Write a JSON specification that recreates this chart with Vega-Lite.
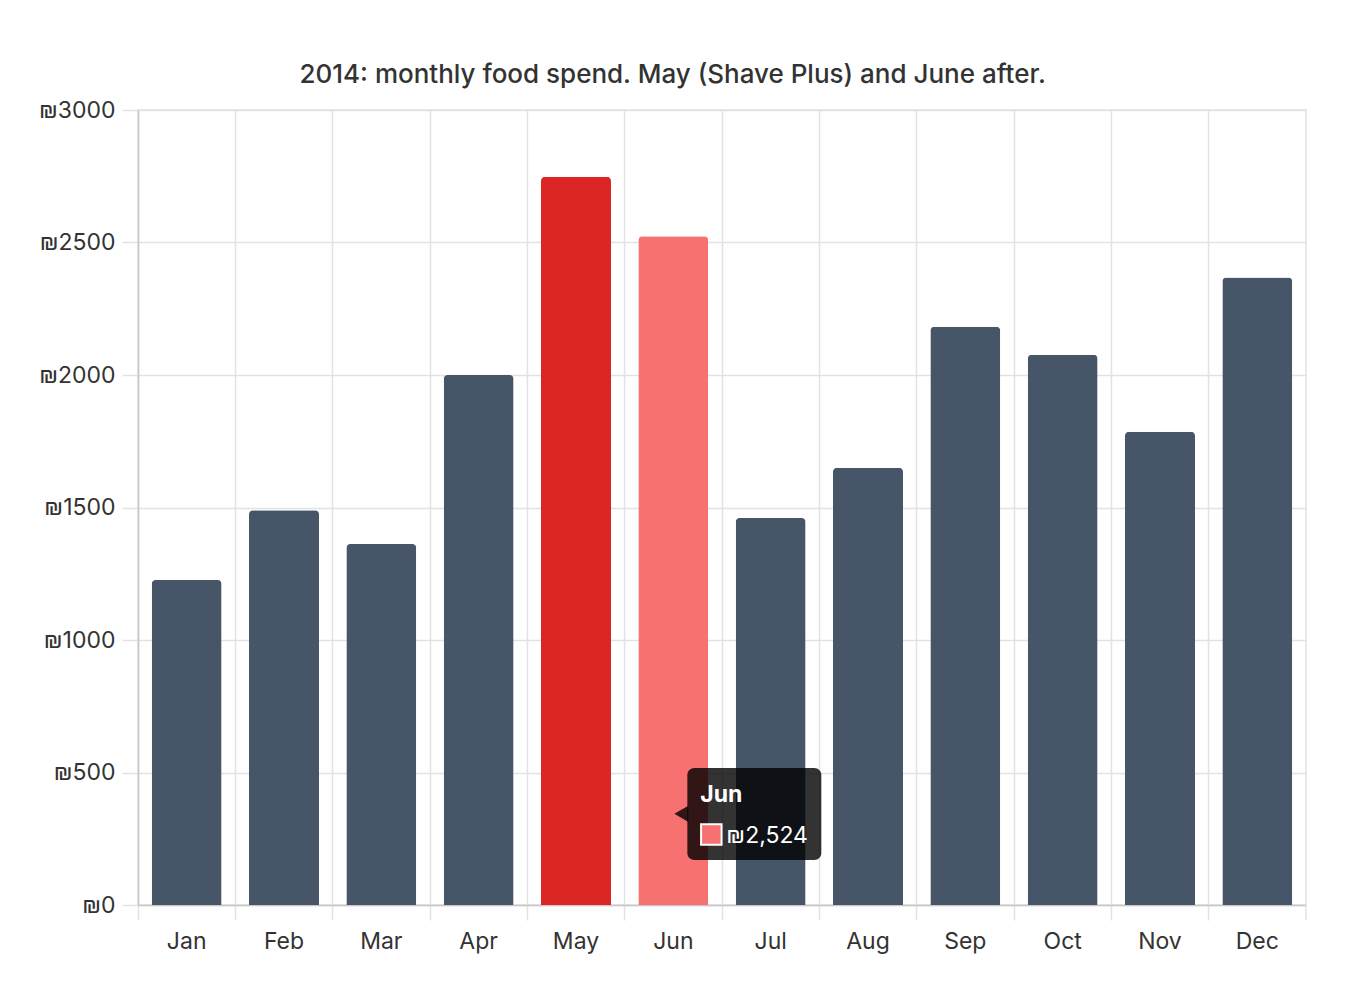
{
  "$schema": "https://vega.github.io/schema/vega-lite/v6.json",
  "width": 1168,
  "height": 795,
  "autosize": "none",
  "padding": {"left": 138, "top": 110, "right": 48, "bottom": 89},
  "background": "#ffffff",
  "title": {
    "text": "2014: monthly food spend. May (Shave Plus) and June after.",
    "fontSize": 26,
    "fontWeight": 500,
    "color": "#333333",
    "baseline": "alphabetic",
    "anchor": "middle",
    "frame": "bounds",
    "offset": -10
  },
  "config": {
    "font": "Inter, DejaVu Sans, sans-serif",
    "locale": {"number": {"decimal": ".", "thousands": ",", "grouping": [3], "currency": ["₪", ""]}},
    "view": {"stroke": "#e2e2e2", "strokeWidth": 1.5},
    "axis": {"labelColor": "#333333", "labelFontSize": 23, "gridColor": "#e2e2e2", "gridWidth": 1.5, "tickColor": "#e2e2e2", "tickWidth": 1.5, "domainColor": "#c8c8c8", "domainWidth": 1.5, "title": null}
  },
  "data": {
    "values": [
      {"month": "Jan", "spend": 1226},
      {"month": "Feb", "spend": 1490},
      {"month": "Mar", "spend": 1362},
      {"month": "Apr", "spend": 2000},
      {"month": "May", "spend": 2748},
      {"month": "Jun", "spend": 2524},
      {"month": "Jul", "spend": 1460},
      {"month": "Aug", "spend": 1650},
      {"month": "Sep", "spend": 2182},
      {"month": "Oct", "spend": 2076},
      {"month": "Nov", "spend": 1786},
      {"month": "Dec", "spend": 2368}
    ]
  },
  "encoding": {
    "x": {
      "field": "month", "type": "nominal", "sort": null,
      "scale": {"paddingInner": 0, "paddingOuter": 0},
      "axis": {"bandPosition": 0, "labelAngle": 0, "tickSize": 15, "labelPadding": 10, "grid": true}
    }
  },
  "layer": [
    {
      "mark": {"type": "bar", "width": 70, "cornerRadiusTopLeft": 4, "cornerRadiusTopRight": 4},
      "encoding": {
        "y": {
          "field": "spend", "type": "quantitative",
          "scale": {"domain": [0, 3000], "nice": false},
          "axis": {"values": [0, 500, 1000, 1500, 2000, 2500, 3000], "labelExpr": "'₪' + datum.value", "tickSize": 16, "labelPadding": 7}
        },
        "color": {
          "condition": [
            {"test": "datum.month === 'May'", "value": "#dc2626"},
            {"test": "datum.month === 'Jun'", "value": "#f87171"}
          ],
          "value": "#475569"
        }
      }
    },
    {
      "transform": [{"filter": "datum.month === 'Dec'"}],
      "mark": {"type": "rule", "color": "#e2e2e2", "strokeWidth": 1.5},
      "encoding": {"x": {"field": "month", "type": "nominal", "bandPosition": 1}, "y": {"datum": 0}, "y2": {"datum": -57}}
    },
    {
      "transform": [{"filter": "datum.month === 'Jun'"}],
      "mark": {"type": "point", "shape": "triangle-left", "size": 260, "filled": true, "color": "#000000", "opacity": 0.8, "xOffset": 8},
      "encoding": {"y": {"datum": 344}}
    },
    {
      "transform": [{"filter": "datum.month === 'Jun'"}],
      "mark": {"type": "bar", "width": 134, "xOffset": 81, "cornerRadius": 7, "color": "#000000", "opacity": 0.8},
      "encoding": {"y": {"datum": 517}, "y2": {"datum": 170}}
    },
    {
      "transform": [{"filter": "datum.month === 'Jun'"}],
      "mark": {"type": "text", "align": "left", "baseline": "alphabetic", "fontSize": 23, "fontWeight": "bold", "color": "#ffffff", "xOffset": 27},
      "encoding": {"y": {"datum": 389}, "text": {"field": "month"}}
    },
    {
      "transform": [{"filter": "datum.month === 'Jun'"}],
      "mark": {"type": "point", "shape": "square", "size": 420, "filled": true, "fill": "#f87171", "stroke": "#ffffff", "strokeWidth": 2, "opacity": 1, "xOffset": 38},
      "encoding": {"y": {"datum": 266}}
    },
    {
      "transform": [{"filter": "datum.month === 'Jun'"}],
      "mark": {"type": "text", "align": "left", "baseline": "alphabetic", "fontSize": 23, "color": "#ffffff", "xOffset": 53},
      "encoding": {"y": {"datum": 234}, "text": {"field": "spend", "format": "$,"}}
    }
  ]
}
